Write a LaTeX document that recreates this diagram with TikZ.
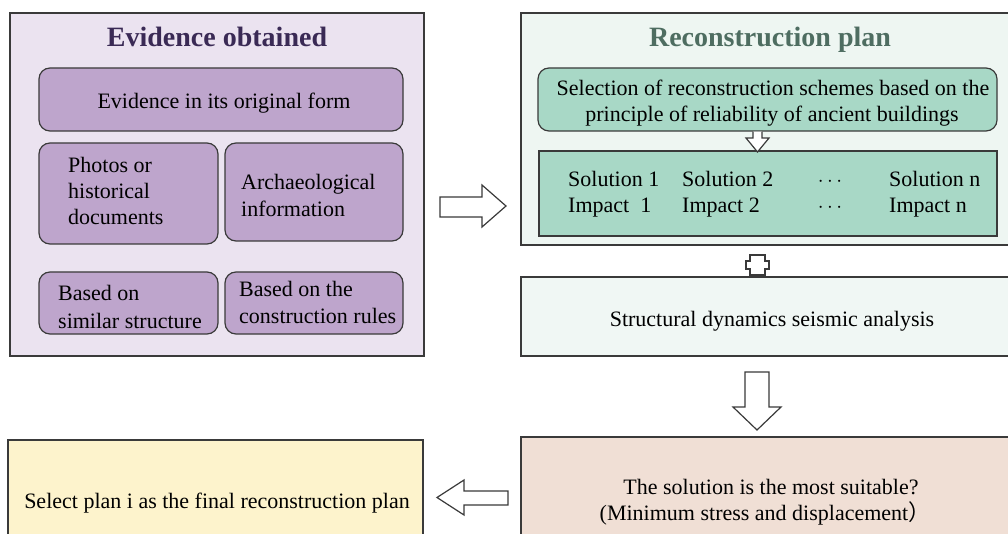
\documentclass[tikz,border=0pt]{standalone}
\usepackage{fontspec}
\setmainfont{Liberation Serif}
\newfontfamily\cjk{Noto Sans CJK SC}
\definecolor{linec}{HTML}{3A3A3A}
\definecolor{lavbg}{HTML}{EBE3F0}
\definecolor{purp}{HTML}{BEA5CC}
\definecolor{titleP}{HTML}{3A2A55}
\definecolor{mintbg}{HTML}{EEF6F2}
\definecolor{tealc}{HTML}{A8D8C6}
\definecolor{titleG}{HTML}{4E6D61}
\definecolor{mintb}{HTML}{F0F7F4}
\definecolor{pinkc}{HTML}{F0DFD5}
\definecolor{yellowc}{HTML}{FDF3CC}
\begin{document}
\begin{tikzpicture}[x=1pt,y=-1pt,
  frame/.style={draw=linec, line width=1.3pt, inner sep=0pt},
  pbox/.style={draw=linec, fill=purp, line width=1.2pt, rounded corners=11pt, inner sep=0pt},
  tbox/.style={draw=linec, fill=tealc, line width=1.2pt, inner sep=0pt},
  txt/.style={font=\fontsize{22}{26}\selectfont, inner sep=0pt, text=black},
  ttl/.style={font=\fontsize{28}{32}\selectfont\bfseries, inner sep=0pt},
  blockarrow/.style={draw=linec, fill=white, line width=1.2pt, line join=miter}]
\useasboundingbox (0,0) rectangle (1008,534);
\clip (0,0) rectangle (1008,534);
\fill[white] (0,0) rectangle (1008,534);

% ---------- left: evidence obtained ----------
\node[frame, fill=lavbg, minimum width=414, minimum height=343] (ev) at (217,184.5) {};
\node[ttl, text=titleP, anchor=base] (evt) at (217,47) {Evidence obtained};
\node[pbox, minimum width=364, minimum height=63] (orig) at (221,99.5) {};
\node[txt, anchor=base] (origt) at (224,109) {Evidence in its original form};
\node[pbox, minimum width=179, minimum height=101] (photo) at (128.5,193.5) {};
\node[txt, anchor=base west] (ph1) at (68,173) {Photos or};
\node[txt, anchor=base west] (ph2) at (68,199) {historical};
\node[txt, anchor=base west] (ph3) at (68,225) {documents};
\node[pbox, minimum width=178, minimum height=98] (arch) at (314,192) {};
\node[txt, anchor=base west] (ar1) at (241,190) {Archaeological};
\node[txt, anchor=base west] (ar2) at (241,217) {information};
\node[pbox, minimum width=179, minimum height=62] (sim) at (128.5,303) {};
\node[txt, anchor=base west] (si1) at (58,301) {Based on};
\node[txt, anchor=base west] (si2) at (58,328) {similar structure};
\node[pbox, minimum width=178, minimum height=62] (rules) at (314,303) {};
\node[txt, anchor=base west] (ru1) at (239,297) {Based on the};
\node[txt, anchor=base west] (ru2) at (239,323) {construction rules};

% ---------- right: reconstruction plan ----------
\node[frame, fill=mintbg, minimum width=491, minimum height=232] (rp) at (766.5,129) {};
\node[ttl, text=titleG, anchor=base] (rpt) at (770,47) {Reconstruction plan};
\node[tbox, rounded corners=11pt, minimum width=459, minimum height=63] (sel) at (767.5,99.5) {};
\node[txt, anchor=base] (se1) at (773,96) {Selection of reconstruction schemes based on the};
\node[txt, anchor=base] (se2) at (772,122) {principle of reliability of ancient buildings};
\node[tbox, minimum width=458, minimum height=85] (sol) at (768,193.5) {};
\node[txt, anchor=base west] (s1) at (568,187) {Solution 1};
\node[txt, anchor=base west] (i1) at (568,213) {Impact\ \ 1};
\node[txt, anchor=base west] (s2) at (682,187) {Solution 2};
\node[txt, anchor=base west] (i2) at (682,213) {Impact 2};
\node[txt, anchor=base] (d1) at (830,187) {$\cdots$};
\node[txt, anchor=base] (d2) at (830,213) {$\cdots$};
\node[txt, anchor=base west] (sn) at (889,187) {Solution n};
\node[txt, anchor=base west] (in) at (889,213) {Impact n};

\node[frame, fill=mintb, minimum width=491, minimum height=79] (sds) at (766.5,316.5) {};
\node[txt, anchor=base] (sdst) at (772,326) {Structural dynamics seismic analysis};

% ---------- bottom ----------
\node[frame, fill=pinkc, minimum width=491, minimum height=110] (suit) at (766.5,492) {};
\node[txt, anchor=base] (su1) at (771,494) {The solution is the most suitable?};
\node[txt, anchor=base] (su2) at (765,520) {(Minimum stress and displacement{\cjk ）}};
\node[frame, fill=yellowc, minimum width=415, minimum height=110] (fin) at (215.5,495) {};
\node[txt, anchor=base] (fint) at (217,508) {Select plan i as the final reconstruction plan};

% ---------- block arrows ----------
% evidence -> reconstruction plan
\draw[blockarrow] (440,197) -- (482,197) -- (482,185) -- (506,206) -- (482,227) -- (482,217) -- (440,217) -- cycle;
% selection -> solutions
\draw[blockarrow] (sel.south -| 753,0) -- (753,138) -- (746,138) -- (757.5,152) -- (769,138) -- (762,138) -- (sel.south -| 762,0);
% plus between solutions and structural analysis
\draw[blockarrow] (750,255) -- (765,255) -- (765,261) -- (769,261) -- (769,269) -- (765,269) -- (765,275) -- (750,275) -- (750,269) -- (746,269) -- (746,261) -- (750,261) -- cycle;
% structural -> suitable
\draw[blockarrow] (745,372) -- (769,372) -- (769,407) -- (781,407) -- (757,430) -- (733,407) -- (745,407) -- cycle;
% suitable -> final
\draw[blockarrow] (508,491) -- (464,491) -- (464,480) -- (437,497.5) -- (464,515) -- (464,505) -- (508,505) -- cycle;
\end{tikzpicture}
\end{document}
